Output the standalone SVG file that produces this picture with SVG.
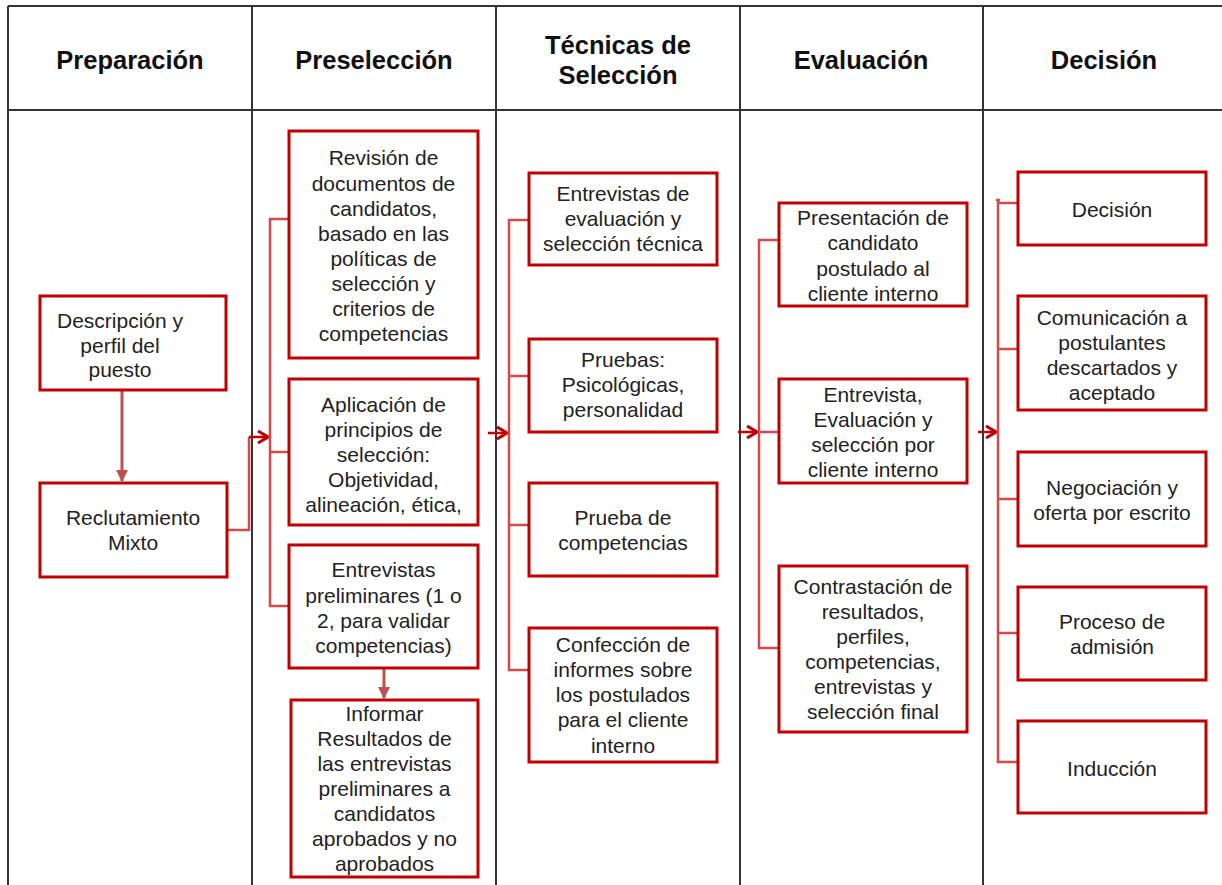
<svg xmlns="http://www.w3.org/2000/svg" width="1222" height="885" viewBox="0 0 1222 885">
<defs>
<marker id="chev" viewBox="0 0 12 14" refX="11" refY="7" markerWidth="12" markerHeight="14" markerUnits="userSpaceOnUse" orient="auto">
<path d="M1,1 L11,7 L1,13" fill="none" stroke="#c00000" stroke-width="3"/>
</marker>
<marker id="tri" viewBox="0 0 12 12" refX="11" refY="6" markerWidth="12" markerHeight="12" markerUnits="userSpaceOnUse" orient="auto">
<path d="M0,0 L12,6 L0,12 Z" fill="#c0504d"/>
</marker>
<style>
.grid{stroke:#333;stroke-width:2;fill:none}
.hd{font-family:"Liberation Sans",Arial,sans-serif;font-weight:bold;font-size:25.5px;fill:#111;text-anchor:middle}
.box{fill:#fff;stroke:#c00000;stroke-width:3}
.t{font-family:"Liberation Sans",Arial,sans-serif;font-size:21px;fill:#222;text-anchor:middle}
.br{fill:none;stroke:#d44a4a;stroke-width:2.5}
.ar{fill:none;stroke:#c00000;stroke-width:2.5}
.va{fill:none;stroke:#c0504d;stroke-width:3}
</style>
</defs>
<g id="table">
<rect x="0" y="0" width="1222" height="885" fill="#fff"/>
<path class="grid" d="M8,6 H1230 M8,110 H1230 M8,6 V885 M252,6 V885 M496,6 V885 M740,6 V885 M983,6 V885"/>
<text class="hd" x="130" y="69">Preparación</text>
<text class="hd" x="374" y="69">Preselección</text>
<text class="hd" x="618" y="54">Técnicas de</text>
<text class="hd" x="618" y="84">Selección</text>
<text class="hd" x="861" y="69">Evaluación</text>
<text class="hd" x="1104" y="69">Decisión</text>
</g>
<g id="connectors">
<line class="va" x1="122" y1="390" x2="122" y2="481" marker-end="url(#tri)"/>
<line class="va" x1="384" y1="668" x2="384" y2="698" marker-end="url(#tri)"/>
<path class="br" d="M227,530 H249 V437"/>
<line class="ar" x1="249" y1="437" x2="268" y2="437" marker-end="url(#chev)"/>
<path class="br" d="M289,219 H270 V606 H289 M270,452 H289"/>
<line class="ar" x1="488" y1="433" x2="507" y2="433" marker-end="url(#chev)"/>
<path class="br" d="M529,220 H509 V670 H529 M509,376 H529 M509,525 H529"/>
<line class="ar" x1="738" y1="432" x2="757" y2="432" marker-end="url(#chev)"/>
<path class="br" d="M779,240 H759 V648 H779 M759,432 H779"/>
<line class="ar" x1="978" y1="432" x2="996" y2="432" marker-end="url(#chev)"/>
<path class="br" d="M996,200 H1000 M1018,203 H998 V200 M998,200 V762 H1018 M998,349 H1018 M998,499 H1018 M998,633 H1018"/>
</g>
<g id="n1"><rect class="box" x="40" y="296" width="186" height="94"/>
<text class="t" x="120" y="328">Descripción y</text><text class="t" x="120" y="353">perfil del</text><text class="t" x="120" y="377">puesto</text></g>
<g id="n2"><rect class="box" x="40" y="483" width="187" height="94"/>
<text class="t" x="133" y="525">Reclutamiento</text><text class="t" x="133" y="550">Mixto</text></g>
<g id="n3"><rect class="box" x="289" y="131" width="189" height="227"/>
<text class="t" x="383.5" y="165">Revisión de</text><text class="t" x="383.5" y="191">documentos de</text><text class="t" x="383.5" y="216">candidatos,</text><text class="t" x="383.5" y="241">basado en las</text><text class="t" x="383.5" y="266">políticas de</text><text class="t" x="383.5" y="291">selección y</text><text class="t" x="383.5" y="316">criterios de</text><text class="t" x="383.5" y="341">competencias</text></g>
<g id="n4"><rect class="box" x="289" y="379" width="189" height="146"/>
<text class="t" x="383.5" y="412">Aplicación de</text><text class="t" x="383.5" y="437">principios de</text><text class="t" x="383.5" y="462">selección:</text><text class="t" x="383.5" y="487">Objetividad,</text><text class="t" x="383.5" y="512">alineación, ética,</text></g>
<g id="n5"><rect class="box" x="289" y="545" width="189" height="123"/>
<text class="t" x="383.5" y="577">Entrevistas</text><text class="t" x="383.5" y="603">preliminares (1 o</text><text class="t" x="383.5" y="628">2, para validar</text><text class="t" x="383.5" y="653">competencias)</text></g>
<g id="n6"><rect class="box" x="291" y="700" width="187" height="177"/>
<text class="t" x="384.5" y="721">Informar</text><text class="t" x="384.5" y="746">Resultados de</text><text class="t" x="384.5" y="771">las entrevistas</text><text class="t" x="384.5" y="796">preliminares a</text><text class="t" x="384.5" y="821">candidatos</text><text class="t" x="384.5" y="846">aprobados y no</text><text class="t" x="384.5" y="871">aprobados</text></g>
<g id="n7"><rect class="box" x="529" y="173" width="188" height="92"/>
<text class="t" x="623" y="201">Entrevistas de</text><text class="t" x="623" y="226">evaluación y</text><text class="t" x="623" y="251">selección técnica</text></g>
<g id="n8"><rect class="box" x="529" y="339" width="188" height="93"/>
<text class="t" x="623" y="367">Pruebas:</text><text class="t" x="623" y="392">Psicológicas,</text><text class="t" x="623" y="417">personalidad</text></g>
<g id="n9"><rect class="box" x="529" y="483" width="188" height="93"/>
<text class="t" x="623" y="525">Prueba de</text><text class="t" x="623" y="550">competencias</text></g>
<g id="n10"><rect class="box" x="529" y="628" width="188" height="134"/>
<text class="t" x="623" y="652">Confección de</text><text class="t" x="623" y="677">informes sobre</text><text class="t" x="623" y="702">los postulados</text><text class="t" x="623" y="727">para el cliente</text><text class="t" x="623" y="753">interno</text></g>
<g id="n11"><rect class="box" x="779" y="203" width="188" height="103"/>
<text class="t" x="873" y="225">Presentación de</text><text class="t" x="873" y="250">candidato</text><text class="t" x="873" y="276">postulado al</text><text class="t" x="873" y="301">cliente interno</text></g>
<g id="n12"><rect class="box" x="779" y="379" width="188" height="104"/>
<text class="t" x="873" y="402">Entrevista,</text><text class="t" x="873" y="427">Evaluación y</text><text class="t" x="873" y="452">selección por</text><text class="t" x="873" y="477">cliente interno</text></g>
<g id="n13"><rect class="box" x="779" y="566" width="188" height="166"/>
<text class="t" x="873" y="594">Contrastación de</text><text class="t" x="873" y="619">resultados,</text><text class="t" x="873" y="644">perfiles,</text><text class="t" x="873" y="669">competencias,</text><text class="t" x="873" y="694">entrevistas y</text><text class="t" x="873" y="719">selección final</text></g>
<g id="n14"><rect class="box" x="1018" y="172" width="188" height="73"/>
<text class="t" x="1112" y="217">Decisión</text></g>
<g id="n15"><rect class="box" x="1018" y="296" width="188" height="114"/>
<text class="t" x="1112" y="325">Comunicación a</text><text class="t" x="1112" y="350">postulantes</text><text class="t" x="1112" y="375">descartados y</text><text class="t" x="1112" y="400">aceptado</text></g>
<g id="n16"><rect class="box" x="1018" y="452" width="188" height="94"/>
<text class="t" x="1112" y="495">Negociación y</text><text class="t" x="1112" y="520">oferta por escrito</text></g>
<g id="n17"><rect class="box" x="1018" y="587" width="188" height="93"/>
<text class="t" x="1112" y="629">Proceso de</text><text class="t" x="1112" y="654">admisión</text></g>
<g id="n18"><rect class="box" x="1018" y="721" width="188" height="92"/>
<text class="t" x="1112" y="776">Inducción</text></g>
</svg>
